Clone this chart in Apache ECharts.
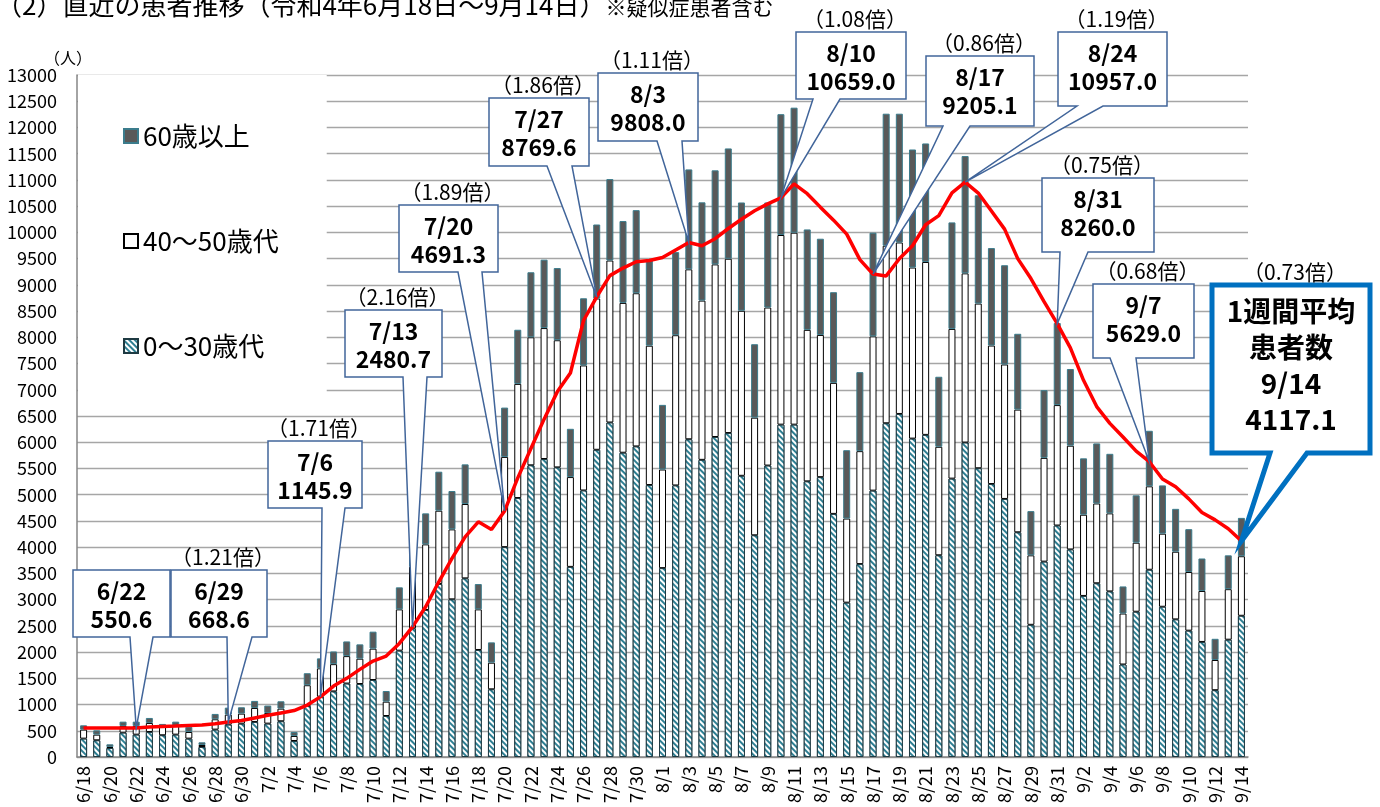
<!DOCTYPE html>
<html><head><meta charset="utf-8">
<script src="https://cdn.jsdelivr.net/npm/echarts@6/dist/echarts.min.js"></script>
<style>html,body{margin:0;padding:0;background:#fff}#c{width:1380px;height:807px}</style>
</head><body><div id="c"></div>
<script>
// ---------- data ----------
const dates = ['6/18','6/19','6/20','6/21','6/22','6/23','6/24','6/25','6/26','6/27','6/28','6/29','6/30',
 '7/1','7/2','7/3','7/4','7/5','7/6','7/7','7/8','7/9','7/10','7/11','7/12','7/13','7/14','7/15','7/16','7/17','7/18','7/19','7/20','7/21','7/22','7/23','7/24','7/25','7/26','7/27','7/28','7/29','7/30','7/31',
 '8/1','8/2','8/3','8/4','8/5','8/6','8/7','8/8','8/9','8/10','8/11','8/12','8/13','8/14','8/15','8/16','8/17','8/18','8/19','8/20','8/21','8/22','8/23','8/24','8/25','8/26','8/27','8/28','8/29','8/30','8/31',
 '9/1','9/2','9/3','9/4','9/5','9/6','9/7','9/8','9/9','9/10','9/11','9/12','9/13','9/14'];

const age0_30 = [350,318,172,464,426,477,414,426,350,191,522,617,636,
 668,636,681,305,973,1150,1250,1400,1391,1468,781,2027,2452,2802,3297,3005,3405,2040,1290,4000,4936,5560,5680,5520,3624,5080,5856,6376,5800,5920,5184,
 3600,5176,6056,5664,6100,6175,5360,4226,5555,6335,6335,5254,5334,4634,2942,3677,5077,6361,6539,6069,6140,3845,5306,5994,5504,5203,4919,4283,2520,3724,4412,
 3956,3070,3311,3156,1763,2769,3569,2864,2623,2408,2193,1273,2236,2692];

const age40_50 = [172,108,19,128,166,172,158,166,127,38,197,191,191,
 267,204,241,96,395,540,520,523,483,597,274,787,1175,1251,1398,1334,1417,774,508,1720,2176,2440,2496,2424,1712,2384,2884,3088,2856,2920,2656,
 1880,2864,3240,3036,3290,3323,3146,2242,3013,3615,3659,2888,2711,2498,1603,2153,2941,3385,3269,3261,3296,2068,2854,3225,3139,2640,2563,2339,1324,1978,2296,
 1978,1548,1522,1488,972,1316,1591,1393,1290,1118,972,576,963,1135];

const age60 = [82,83,51,82,82,95,58,82,96,51,102,133,121,
 134,140,140,76,229,190,242,280,273,324,203,420,543,591,743,731,756,483,387,940,1032,1240,1304,1376,920,1280,1410,1552,1560,1584,1624,
 1232,1584,1904,1873,1793,2102,2064,1400,2002,2303,2383,1914,1834,1728,1303,1506,1976,2516,2454,2250,2259,1335,2030,2236,2064,1858,1892,1445,843,1290,1565,
 1462,1075,1144,1135,516,903,1058,920,817,817,619,404,645,731];

const avg7 = [555,553,551,552,550.6,570,583,590,600,608,632,668.6,695,
 745,795,840,885,990,1145.9,1352,1499,1670,1829,1924,2165,2480.7,2864,3340,3785,4197,4483,4337,4691.3,5320,5880,6440,6960,7320,8320,8769.6,9176,9320,9440,9464,
 9520,9664,9808.0,9746,9879,10074,10251,10411,10543,10659.0,10924,10738,10481,10233,9967,9480,9205.1,9170,9498,9746,10145,10320,10755,10957.0,10750,10406,10062,9500,9120,8680,8260.0,
 7800,7180,6680,6360,6100,5830,5629.0,5300,5150,4920,4660,4520,4350,4117.1];

const seriesNames = ['0～30歳代','40～50歳代','60歳以上'];
const legendOrder = ['60歳以上','40～50歳代','0～30歳代'];

// callout annotations (date, shown value, ratio vs previous week)
const calloutDates  = ['6/22','6/29','7/6','7/13','7/20','7/27','8/3','8/10','8/17','8/24','8/31','9/7','9/14'];
const calloutValues = ['550.6','668.6','1145.9','2480.7','4691.3','8769.6','9808.0','10659.0','9205.1','10957.0','8260.0','5629.0','4117.1'];
const calloutRatios = [null,'1.21','1.71','2.16','1.89','1.86','1.11','1.08','0.86','1.19','0.75','0.68','0.73'];

const titleMain = '（2）直近の患者推移（令和4年6月18日～9月14日）';
const titleNote = '※疑似症患者含む';
const yUnit = '（人）';
const summaryLines = ['1週間平均','患者数'];

// ---------- layout (pixels): box [x, y, w, h], pointer base [x1, x2] ----------
const boxLayout = [
  [73,570,97,67,130,153],[171,570,96,67,227,252],[268,441,94,67,322,345],[345,310,97,67,403,427],
  [399,205,99,67,458,482],[489,98,100,68,547,572],[598,73,100,68,657,682],[796,32,110,67,813,840],
  [926,56,108,70,943,970],[1058,32,109,74,1077,1103],[1042,178,112,74,1060,1088],[1093,284,101,74,1110,1136],
  [1212,285,158,168,1270,1307]
];

const FONT = 'Noto Sans CJK JP';
const chart = echarts.init(document.getElementById('c'));

const option = {
  animation: false,
  backgroundColor: '#fff',
  textStyle: { fontFamily: FONT },
  title: {
    text: '{a|' + titleMain + '}{b|' + titleNote + '}',
    left: -4, top: -8, padding: 0,
    textStyle: { fontWeight: 'normal', rich: {
      a: { fontSize: 26, fontFamily: FONT, fontWeight: 'normal', color: '#000', verticalAlign: 'bottom' },
      b: { fontSize: 21, fontFamily: FONT, fontWeight: 'normal', color: '#000', verticalAlign: 'bottom' }
    } }
  },
  grid: { left: 77, right: 132, top: 75, bottom: 50, containLabel: false, outerBoundsMode: 'none' },
  legend: {
    data: legendOrder.map(n => ({ name: n, icon: 'rect' })),
    orient: 'vertical', left: 78, top: 75,
    backgroundColor: '#fff',
    padding: [48, 48, 38, 45],
    itemWidth: 14, itemHeight: 14, itemGap: 79,
    textStyle: { fontSize: 26, color: '#000', fontFamily: FONT }
  },
  xAxis: {
    type: 'category', data: dates,
    axisTick: { show: false },
    axisLine: { lineStyle: { color: '#868686', width: 1.5 } },
    axisLabel: { interval: 1, rotate: 90, fontSize: 18, color: '#000', margin: 9, fontFamily: FONT }
  },
  yAxis: {
    type: 'value', min: 0, max: 13000, interval: 500,
    name: yUnit, nameLocation: 'end', nameGap: 9,
    nameTextStyle: { fontSize: 16, color: '#000', padding: [0, 18, 0, 0], fontFamily: FONT },
    axisLine: { show: true, lineStyle: { color: '#868686', width: 1.5 } },
    axisTick: { show: false },
    splitLine: { lineStyle: { color: '#a6a6a6', width: 1.3 } },
    axisLabel: { fontSize: 18, color: '#000', margin: 20, fontFamily: FONT, formatter: v => String(v) }
  },
  series: [
    { name: seriesNames[0], type: 'bar', stack: 'total', data: age0_30, barWidth: 7,
      itemStyle: { color: '#ffffff', borderColor: '#1e3a42', borderWidth: 1,
        decal: { symbol: 'rect', symbolSize: 1, color: '#2e7f93', backgroundColor: '#ffffff',
                 dashArrayX: [1, 0], dashArrayY: [2, 2], rotation: Math.PI / 4 } } },
    { name: seriesNames[1], type: 'bar', stack: 'total', data: age40_50, barWidth: 7,
      itemStyle: { color: '#ffffff', borderColor: '#000', borderWidth: 1 } },
    { name: seriesNames[2], type: 'bar', stack: 'total', data: age60, barWidth: 7,
      itemStyle: { color: '#595959', borderColor: '#3b7c8c', borderWidth: 1 } },
    { name: '1週間平均', type: 'line', data: avg7, symbol: 'none', z: 5,
      lineStyle: { color: '#ff0000', width: 3.5 } }
  ]
};
chart.setOption(option);

// ---------- callouts anchored to the data points ----------
const g = [];
function txt(t, x, y, size, weight) {
  return { type: 'text', z: 101,
    style: { text: t, x: x, y: y, align: 'center', verticalAlign: 'middle',
             fontSize: size, fontWeight: weight, fontFamily: FONT, fill: '#000' } };
}
calloutDates.forEach((d, i) => {
  const idx = dates.indexOf(d);
  const tip = chart.convertToPixel({ xAxisIndex: 0, yAxisIndex: 0 }, [idx, avg7[idx]]);
  const [x, y, w, h, b1, b2] = boxLayout[i];
  const isSummary = (i === calloutDates.length - 1);
  g.push({
    type: 'polygon', z: 100,
    shape: { points: [[x, y], [x + w, y], [x + w, y + h], [b2, y + h], [tip[0], tip[1]], [b1, y + h], [x, y + h]] },
    style: { fill: '#fff', stroke: isSummary ? '#0070c0' : '#41659a', lineWidth: isSummary ? 5 : 1.5, lineJoin: 'miter' }
  });
  const cx = x + w / 2;
  if (isSummary) {
    summaryLines.concat([d, calloutValues[i]]).forEach((t, k) => g.push(txt(t, cx, y + 26 + k * 36, 28, 'bold')));
  } else {
    [d, calloutValues[i]].forEach((t, k) => g.push(txt(t, cx, y + 21 + k * 28, 23, 'bold')));
  }
  if (calloutRatios[i]) {
    g.push(txt('（' + calloutRatios[i] + '倍）', cx + 4, y - 13, 21, 'normal'));
  }
});
chart.setOption({ graphic: g });
</script></body></html>
